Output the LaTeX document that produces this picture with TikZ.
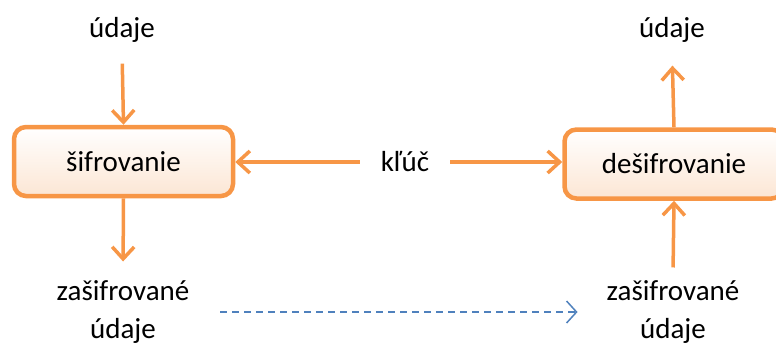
\documentclass[tikz,border=0pt]{standalone}
\usepackage{fontspec}
\setmainfont{Carlito}
\usetikzlibrary{arrows.meta}

\definecolor{orng}{RGB}{247,150,70}
\definecolor{orngfill}{RGB}{252,230,212}
\definecolor{dashblue}{RGB}{79,129,189}

\begin{document}
\begin{tikzpicture}[x=0.5pt, y=-0.5pt,
			every node/.style={font=\fontsize{14.5}{19}\selectfont},
			process/.style={rectangle, rounded corners=6pt, draw=orng, line width=2.25pt, top color=white, bottom color=orngfill, minimum width=109.5pt, minimum height=34.5pt},
			datatext/.style={align=center},
			flow/.style={draw=orng, line width=1.75pt, -{Straight Barb[length=6pt,width=11pt]}}]
			\useasboundingbox (0,0) rectangle (776,345);
			\node[process] (encrypt) at (123.5,161.5) {šifrovanie};
			\node[process] (decrypt) at (674,164) {dešifrovanie};
			\node[datatext] (plainin) at (122,30) {údaje};
			\node[datatext] (plainout) at (672,30) {údaje};
			\node[datatext] (key) at (405,162) {kľúč};
			\node[datatext] (cipherout) at (123,312) {zašifrované\\údaje};
			\node[datatext] (cipherin) at (673,312) {zašifrované\\údaje};
			\begin{scope}[flow]
				\draw[shorten <=7pt] (plainin.south) -- (encrypt.north);
				\draw[shorten <=7pt] (key.west) -- (key.west -| encrypt.east);
				\draw[shorten <=7pt] (key.east) -- (key.east -| decrypt.west);
				\draw[shorten >=8pt] (decrypt.north) -- (plainout.south);
				\draw[shorten >=6pt] (encrypt.south) -- (cipherout.north);
				\draw[shorten <=3pt] (cipherin.north) -- (decrypt.south);
			\end{scope}
			\draw[dashblue, line width=0.75pt, dash pattern=on 3.5pt off 2.5pt, shorten <=12pt, shorten >=11pt, -{Straight Barb[length=5pt,width=11pt]}] (cipherout.east) -- (cipherin.west);
		\end{tikzpicture}
\end{document}
